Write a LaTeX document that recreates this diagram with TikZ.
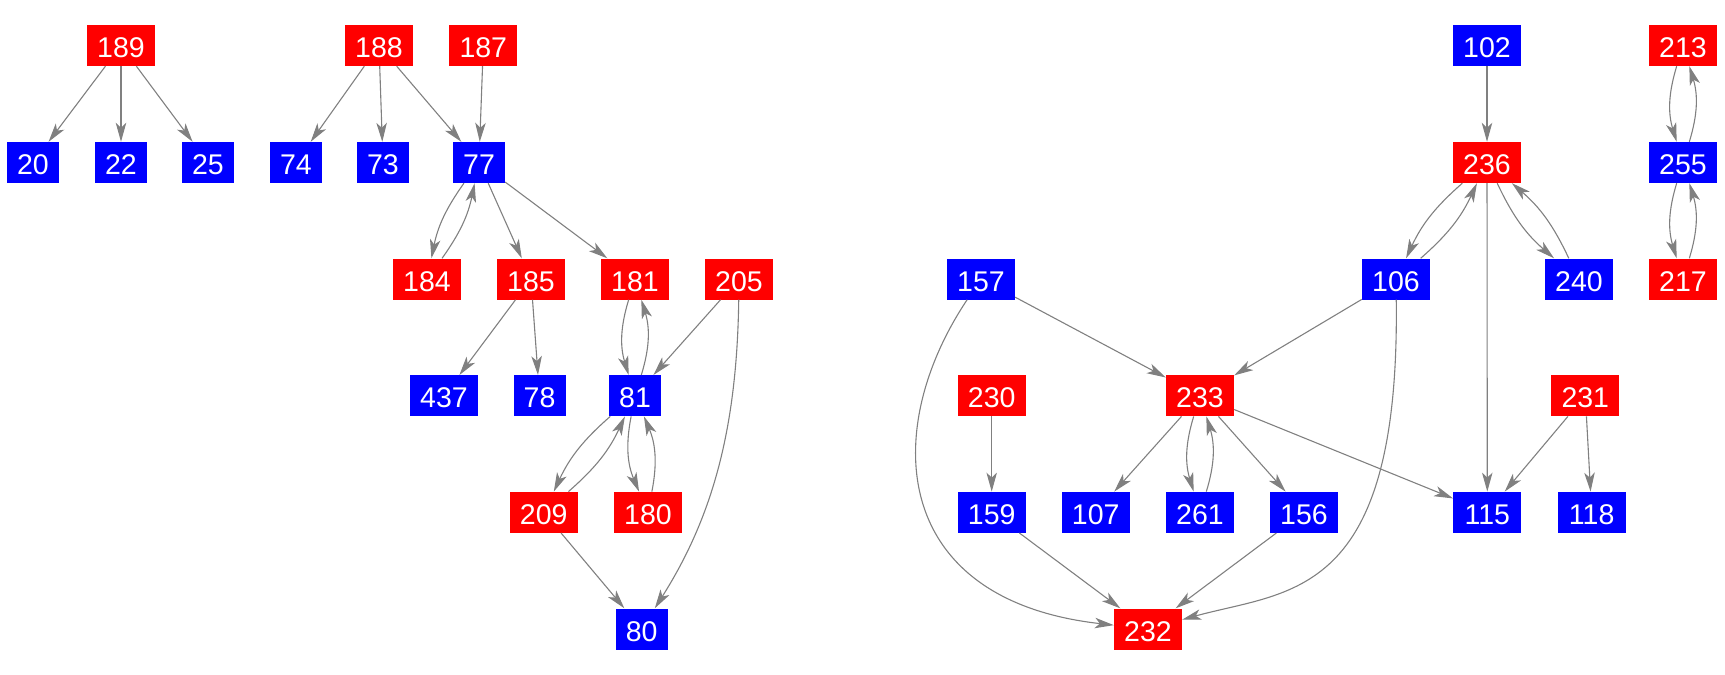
\documentclass[tikz,border=0pt]{standalone}
\usepackage{fontspec}
\setmainfont{Liberation Sans}
\usetikzlibrary{arrows.meta}
\definecolor{nred}{RGB}{255,0,0}
\definecolor{nblue}{RGB}{0,0,255}
\definecolor{edgegray}{RGB}{128,128,128}
\begin{document}
\begin{tikzpicture}[x=1pt,y=-1pt,
  nd/.style={inner sep=0pt, minimum height=41pt, text height=24pt, text depth=0pt, text=white, font=\fontsize{28.5}{28.5}\selectfont},
  w3/.style={nd, minimum width=68pt},
  w2/.style={nd, minimum width=52pt},
  rd/.style={fill=nred},
  bl/.style={fill=nblue},
  edge/.style={draw=edgegray, line width=1.1pt, -{Stealth[length=19pt,width=10.5pt,inset=5pt]}},
  pair/.style={edge, bend right=17},
  lpair/.style={edge, bend right=12}]
\useasboundingbox (0,0) rectangle (1725,675);
% row 1
\node[w3,rd] (n189) at (121,45.5) {189};
\node[w3,rd] (n188) at (379,45.5) {188};
\node[w3,rd] (n187) at (483.3,45.5) {187};
\node[w3,bl] (n102) at (1487,45.5) {102};
\node[w3,rd] (n213) at (1683,45.5) {213};
% row 2
\node[w2,bl] (n20) at (33,162.5) {20};
\node[w2,bl] (n22) at (121,162.5) {22};
\node[w2,bl] (n25) at (208,162.5) {25};
\node[w2,bl] (n74) at (296,162.5) {74};
\node[w2,bl] (n73) at (383,162.5) {73};
\node[w2,bl] (n77) at (479,162.5) {77};
\node[w3,rd] (n236) at (1487,162.5) {236};
\node[w3,bl] (n255) at (1683,162.5) {255};
% row 3
\node[w3,rd] (n184) at (427,279) {184};
\node[w3,rd] (n185) at (531,279) {185};
\node[w3,rd] (n181) at (635,279) {181};
\node[w3,rd] (n205) at (739,279) {205};
\node[w3,bl] (n157) at (981,279) {157};
\node[w3,bl] (n106) at (1396,279) {106};
\node[w3,bl] (n240) at (1579,279) {240};
\node[w3,rd] (n217) at (1683,279) {217};
% row 4
\node[w3,bl] (n437) at (444,395.7) {437};
\node[w2,bl] (n78) at (539.5,395.7) {78};
\node[w2,bl] (n81) at (635,395.7) {81};
\node[w3,rd] (n230) at (991.7,395.7) {230};
\node[w3,rd] (n233) at (1200,395.7) {233};
\node[w3,rd] (n231) at (1585.3,395.7) {231};
% row 5
\node[w3,rd] (n209) at (543.7,512.3) {209};
\node[w3,rd] (n180) at (648,512.3) {180};
\node[w3,bl] (n159) at (991.7,512.3) {159};
\node[w3,bl] (n107) at (1095.7,512.3) {107};
\node[w3,bl] (n261) at (1200,512.3) {261};
\node[w3,bl] (n156) at (1304,512.3) {156};
\node[w3,bl] (n115) at (1487.3,512.3) {115};
\node[w3,bl] (n118) at (1591.7,512.3) {118};
% row 6
\node[w2,bl] (n80) at (641.7,629) {80};
\node[w3,rd] (n232) at (1148,629) {232};
% straight edges
\draw[edge] (n189) -- (n20);
\draw[edge] (n189) -- (n22);
\draw[edge] (n189) -- (n25);
\draw[edge] (n188) -- (n74);
\draw[edge] (n188) -- (n73);
\draw[edge] (n188) -- (n77);
\draw[edge] (n187) -- (n77);
\draw[edge] (n77) -- (n185);
\draw[edge] (n77) -- (n181);
\draw[edge] (n185) -- (n437);
\draw[edge] (n185) -- (n78);
\draw[edge] (n205) -- (n81);
\draw[edge] (n209) -- (n80);
\draw[edge] (n102) -- (n236);
\draw[edge] (n236) -- (n115);
\draw[edge] (n157) -- (n233);
\draw[edge] (n106) -- (n233);
\draw[edge] (n230) -- (n159);
\draw[edge] (n233) -- (n107);
\draw[edge] (n233) -- (n156);
\draw[edge] (n233) -- (n115);
\draw[edge] (n159) -- (n232);
\draw[edge] (n156) -- (n232);
\draw[edge] (n231) -- (n115);
\draw[edge] (n231) -- (n118);
% paired edges
\draw[lpair] (n77) to (n184);
\draw[lpair] (n184) to (n77);
\draw[pair] (n181) to (n81);
\draw[pair] (n81) to (n181);
\draw[lpair] (n81) to (n209);
\draw[lpair] (n209) to (n81);
\draw[pair] (n81) to (n180);
\draw[pair] (n180) to (n81);
\draw[lpair] (n236) to (n106);
\draw[lpair] (n106) to (n236);
\draw[lpair] (n236) to (n240);
\draw[lpair] (n240) to (n236);
\draw[pair] (n213) to (n255);
\draw[pair] (n255) to (n213);
\draw[pair] (n255) to (n217);
\draw[pair] (n217) to (n255);
\draw[pair] (n233) to (n261);
\draw[pair] (n261) to (n233);
% long curves
\draw[edge] (n205) .. controls (737,430) and (712,518) .. (n80);
\draw[edge] (n157) .. controls (880,430) and (890,600) .. (n232);
\draw[edge] (n106) .. controls (1400,600) and (1290,590) .. (n232);
\end{tikzpicture}
\end{document}
